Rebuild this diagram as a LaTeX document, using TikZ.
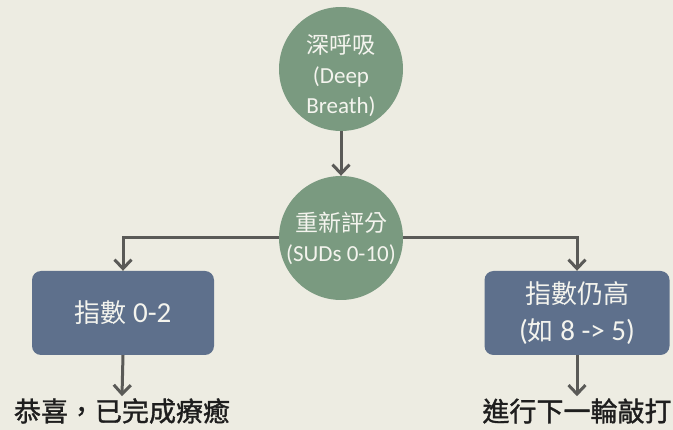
\documentclass[tikz,border=0pt]{standalone}
\usepackage{fontspec}
\setmainfont{Carlito}
\newfontfamily\cjk{Noto Sans CJK TC}
\newfontfamily\cjkm[FakeBold=1.3]{Noto Sans CJK TC}
\usetikzlibrary{arrows.meta}
\definecolor{bgc}{HTML}{EDECE2}
\definecolor{greenc}{HTML}{7A9A80}
\definecolor{bluec}{HTML}{5E708C}
\definecolor{arrc}{HTML}{5A5A57}
\definecolor{txtw}{HTML}{F4F4EE}
\definecolor{txtd}{HTML}{1E1E1E}
\newcommand{\bcjk}[1]{{\cjk\fontsize{26}{37}\selectfont #1}}
\tikzset{
  circ/.style={circle, fill=greenc, minimum size=124pt, inner sep=0pt, text=txtw, align=center, font=\fontsize{23}{30}\selectfont},
  bluebox/.style={rectangle, rounded corners=9pt, fill=bluec, inner sep=0pt, text=txtw, align=center, minimum height=84pt, font=\fontsize{29}{37}\selectfont},
  result/.style={text=txtd, inner sep=2pt, font=\fontsize{27}{30}\selectfont},
  arr/.style={draw=arrc, line width=3pt, -{Straight Barb[length=9pt, width=17pt, line width=3pt]}}
}
\begin{document}
\begin{tikzpicture}[x=1pt, y=-1pt]
\fill[bgc] (0,0) rectangle (673,430);
\useasboundingbox (0,0) rectangle (673,430);
\node[circ] (breath) at (341,69) {};
\node[text=txtw, align=center, font=\fontsize{23}{30}\selectfont] (breathtxt) at (341,76) {{\cjk 深呼吸}\\(Deep\\Breath)};
\node[circ] (suds) at (341,238) {{\cjk 重新評分}\\(SUDs 0-10)};
\node[bluebox, minimum width=182pt] (low) at (123,313) {\bcjk{指數} 0-2};
\node[bluebox, minimum width=185pt] (high) at (577,313) {\bcjk{指數仍高}\\(\bcjk{如} 8 -> 5)};
\node[result] (done) at (122,411) {\cjkm 恭喜，已完成療癒};
\node[result] (next) at (577,411) {\cjkm 進行下一輪敲打};
\draw[arr] (breath) -- (suds);
\draw[arr] (suds.west) -| (low.north);
\draw[arr] (suds.east) -| (high.north);
\draw[arr] (low.south) -- (done.north);
\draw[arr] (high.south) -- (next.north);
\end{tikzpicture}
\end{document}
